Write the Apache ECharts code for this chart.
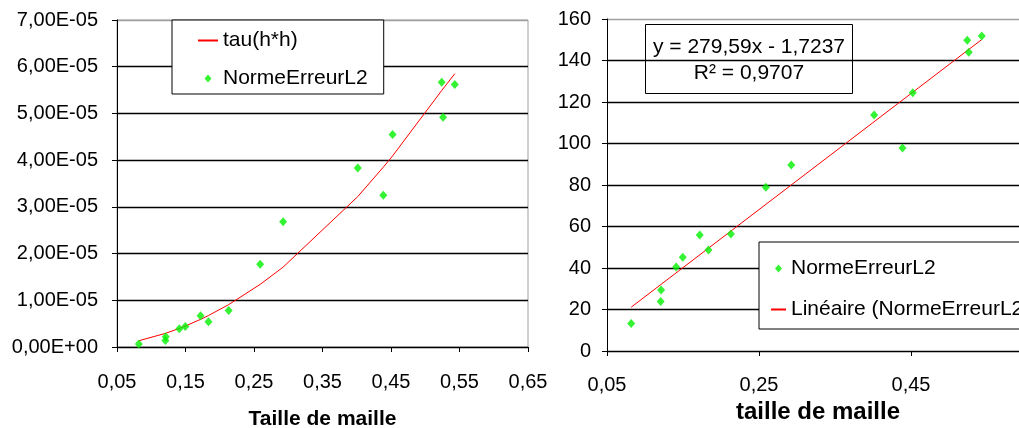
<!DOCTYPE html>
<html>
<head>
<meta charset="utf-8">
<script src="https://cdn.jsdelivr.net/npm/echarts@6/dist/echarts.min.js"></script>
<style>
html,body{margin:0;padding:0;background:#fff;}
#chart{width:1019px;height:428px;}
</style>
</head>
<body>
<div id="chart"></div>
<script>
// ---- data ----
const meshSize = [0.0818, 0.1206, 0.1212, 0.1410, 0.1497, 0.1720, 0.1835, 0.2130, 0.2590, 0.2925, 0.4015, 0.4388, 0.4523, 0.5240, 0.5260, 0.5431];
const normeErreurL2 = [6.4e-7, 1.41e-6, 2.2e-6, 3.9e-6, 4.4e-6, 6.7e-6, 5.4e-6, 7.8e-6, 1.77e-5, 2.68e-5, 3.83e-5, 3.25e-5, 4.55e-5, 5.67e-5, 4.92e-5, 5.62e-5];
const tauHH = [1.34e-6, 2.91e-6, 2.94e-6, 3.98e-6, 4.48e-6, 5.92e-6, 6.73e-6, 9.07e-6, 1.34e-5, 1.71e-5, 3.22e-5, 3.85e-5, 4.09e-5, 5.49e-5, 5.53e-5, 5.85e-5];
const normeRight = [13.3, 23.8, 29.4, 40.5, 45.2, 55.9, 48.7, 56.4, 78.9, 89.6, 113.7, 97.8, 124.5, 149.7, 144.0, 151.8];
const trendX = [0.0818, 0.5431];
const trendY = [21.1, 150.1];
const leftXTicks = [0.05, 0.15, 0.25, 0.35, 0.45, 0.55, 0.65];
const leftXLabels = ['0,05', '0,15', '0,25', '0,35', '0,45', '0,55', '0,65'];
const leftYLabels = ['0,00E+00', '1,00E-05', '2,00E-05', '3,00E-05', '4,00E-05', '5,00E-05', '6,00E-05', '7,00E-05'];
const rightXTicks = [0.05, 0.25, 0.45, 0.65];
const rightXLabels = ['0,05', '0,25', '0,45', '0,65'];
const eqLine1 = 'y = 279,59x - 1,7237';
const eqLine2 = 'R² = 0,9707';
const leftTitle = 'Taille de maille';
const rightTitle = 'taille de maille';
const nameTau = 'tau(h*h)';
const nameErr = 'NormeErreurL2';
const nameTrend = 'Linéaire (NormeErreurL2)';

// ---- build ----
const FONT = "'Liberation Sans', Arial, sans-serif";
const pairs = (xs, ys) => xs.map((x, i) => [x, ys[i]]);
const fmtComma = v => {
  const i = leftXTicks.findIndex(t => Math.abs(t - v) < 1e-9);
  return i >= 0 ? leftXLabels[i] : '';
};
const fmtCommaR = v => {
  const i = rightXTicks.findIndex(t => Math.abs(t - v) < 1e-9);
  return i >= 0 ? rightXLabels[i] : '';
};
const black = '#000';
const GREEN = '#00f000';
const RED = '#ff0000';
const gridColorsLeft = leftYLabels.map((_, i) => i === leftYLabels.length - 1 ? '#a0a0a0' : black);
const gridColorsRight = Array.from({length: 9}, (_, i) => i === 8 ? '#a0a0a0' : black);
// legend diamond icons padded to the full legend item box so they are not stretched
const diamondIcon20 = 'path://M0,0M20,8M10,0L13.5,4L10,8L6.5,4Z';
const diamondIcon15 = 'path://M0,0M15,8M7.5,0L11,4L7.5,8L4,4Z';

const axisCommon = {
  axisLine: {show: true, onZero: false, lineStyle: {color: black, width: 1}},
  axisTick: {show: true, inside: false, length: 5, lineStyle: {color: black}},
  axisLabel: {color: black, fontSize: 20, fontFamily: FONT}
};

const chart = echarts.init(document.getElementById('chart'), null, {renderer: 'canvas'});
chart.setOption({
  animation: false,
  backgroundColor: '#fff',
  textStyle: {fontFamily: FONT},
  grid: [
    {left: 117, top: 20, width: 411, height: 327, show: true, borderColor: '#a0a0a0', borderWidth: 1,
     containLabel: false, outerBoundsMode: 'none'},
    {left: 607, top: 19, width: 456, height: 332, show: false,
     containLabel: false, outerBoundsMode: 'none'}
  ],
  xAxis: [
    Object.assign({}, axisCommon, {
      type: 'value', gridIndex: 0, min: 0.05, max: 0.65, interval: 0.05,
      splitLine: {show: false},
      axisTick: Object.assign({}, axisCommon.axisTick, {customValues: leftXTicks}),
      axisLabel: Object.assign({}, axisCommon.axisLabel, {customValues: leftXTicks, margin: 25, formatter: fmtComma}),
      name: leftTitle, nameLocation: 'middle', nameGap: 62,
      nameTextStyle: {fontSize: 21, fontWeight: 'bold', color: black, fontFamily: FONT}
    }),
    Object.assign({}, axisCommon, {
      type: 'value', gridIndex: 1, min: 0.05, max: 0.65, interval: 0.05,
      splitLine: {show: false},
      axisTick: Object.assign({}, axisCommon.axisTick, {customValues: rightXTicks}),
      axisLabel: Object.assign({}, axisCommon.axisLabel, {customValues: rightXTicks, margin: 24, formatter: fmtCommaR}),
      name: rightTitle, nameLocation: 'middle', nameGap: 34,
      nameTextStyle: {fontSize: 24, fontWeight: 'bold', color: black, fontFamily: FONT, padding: [0, 34, 0, 0]}
    })
  ],
  yAxis: [
    Object.assign({}, axisCommon, {
      type: 'value', gridIndex: 0, min: 0, max: 7e-5, interval: 1e-5,
      splitLine: {show: true, lineStyle: {color: gridColorsLeft, width: 1.4}},
      axisLabel: Object.assign({}, axisCommon.axisLabel, {margin: 19, formatter: (v, i) => leftYLabels[i]})
    }),
    Object.assign({}, axisCommon, {
      type: 'value', gridIndex: 1, min: 0, max: 160, interval: 20,
      splitLine: {show: true, lineStyle: {color: gridColorsRight, width: 1.4}},
      axisLabel: Object.assign({}, axisCommon.axisLabel, {margin: 16})
    })
  ],
  legend: [
    {
      orient: 'vertical', left: 172, top: 20,
      itemWidth: 20, itemHeight: 8, itemGap: 17,
      padding: [10, 16, 5, 25],
      backgroundColor: '#fff', borderColor: black, borderWidth: 1, borderRadius: 0,
      selectedMode: false,
      textStyle: {fontSize: 21, color: black, fontFamily: FONT},
      data: [
        {name: nameTau, itemStyle: {opacity: 0}},
        {name: nameErr, icon: diamondIcon20}
      ]
    },
    {
      orient: 'vertical', left: 759, top: 242,
      itemWidth: 15, itemHeight: 8, itemGap: 20,
      padding: [16, 20, 9, 11],
      backgroundColor: '#fff', borderColor: black, borderWidth: 1, borderRadius: 0,
      selectedMode: false,
      textStyle: {fontSize: 21, color: black, fontFamily: FONT},
      data: [
        {name: nameErr, icon: diamondIcon15},
        {name: nameTrend, itemStyle: {opacity: 0}}
      ]
    }
  ],
  graphic: [
    {type: 'rect', z: 50, shape: {x: 645.5, y: 24.5, width: 207, height: 69},
     style: {fill: 'none', stroke: black, lineWidth: 1}},
    {type: 'text', z: 51, x: 749, y: 47,
     style: {text: eqLine1, fill: black, font: '21px ' + FONT, textAlign: 'center', textVerticalAlign: 'middle'}},
    {type: 'text', z: 51, x: 749, y: 73,
     style: {text: eqLine2, fill: black, font: '21px ' + FONT, textAlign: 'center', textVerticalAlign: 'middle'}}
  ],
  series: [
    {
      name: nameTau, type: 'line', xAxisIndex: 0, yAxisIndex: 0,
      data: pairs(meshSize, tauHH), symbol: 'none', smooth: false,
      lineStyle: {color: RED, width: 1}, itemStyle: {color: RED}, z: 2
    },
    {
      name: nameErr, type: 'scatter', xAxisIndex: 0, yAxisIndex: 0,
      data: pairs(meshSize, normeErreurL2), symbol: 'diamond', symbolSize: [8, 9],
      itemStyle: {color: GREEN}, z: 3
    },
    {
      name: nameErr, type: 'scatter', xAxisIndex: 1, yAxisIndex: 1,
      data: pairs(meshSize, normeRight), symbol: 'diamond', symbolSize: [8, 9],
      itemStyle: {color: GREEN}, z: 3
    },
    {
      name: nameTrend, type: 'line', xAxisIndex: 1, yAxisIndex: 1,
      data: pairs(trendX, trendY), symbol: 'none',
      lineStyle: {color: RED, width: 1}, itemStyle: {color: RED}, z: 2
    }
  ]
});
</script>
</body>
</html>
